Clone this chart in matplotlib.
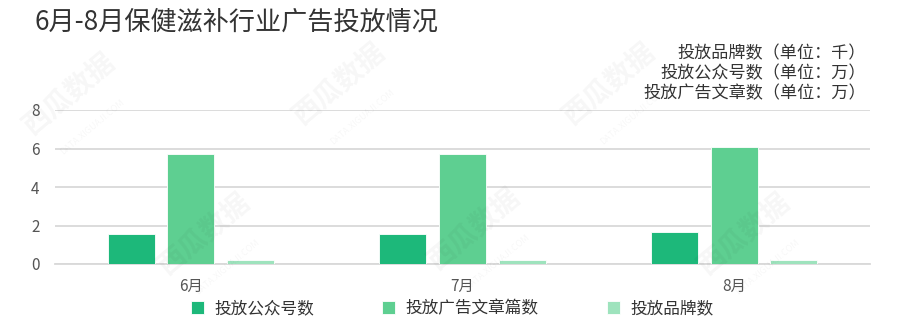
import matplotlib.pyplot as plt
import numpy as np

plt.rcParams['font.family'] = ['Noto Sans CJK SC', 'DejaVu Sans']

months = ["6月", "7月", "8月"]
series_names = ["投放公众号数", "投放广告文章篇数", "投放品牌数"]
accounts = [1.58, 1.55, 1.68]
articles = [5.69, 5.70, 6.06]
brands = [0.20, 0.22, 0.20]
colors = ["#1db87a", "#5ecf91", "#9ee3bd"]
unit_notes = ["投放品牌数（单位：千）", "投放公众号数（单位：万）", "投放广告文章数（单位：万）"]

fig = plt.figure(figsize=(8.97, 3.31), dpi=100)
ax = fig.add_axes([55 / 897, 1 - 264 / 331, 815 / 897, 154 / 331])

# faint watermarks
for px, py in [(70, 95), (340, 85), (610, 85), (205, 235), (475, 230), (745, 235)]:
    fig.text(px / 897, 1 - py / 331, "西瓜数据", fontsize=20, color="#000000", alpha=0.035,
             rotation=40, ha="center", va="center", fontweight="bold")
    fig.text((px + 22) / 897, 1 - (py + 32) / 331, "DATA.XIGUAJI.COM", fontsize=6.5,
             color="#000000", alpha=0.035, rotation=40, ha="center", va="center")

x = np.arange(len(months))
w = 0.173
step = 0.22
for i, vals in enumerate([accounts, articles, brands]):
    ax.bar(x + (i - 1) * step, vals, width=w, color=colors[i], edgecolor="#ffffff",
           linewidth=0.6, label=series_names[i], zorder=3)

ax.set_xlim(-0.5, 2.5)
ax.set_ylim(0, 8)
ax.set_yticks([0, 2, 4, 6, 8])
ax.set_xticks(x)
ax.set_xticklabels(months)
ax.grid(axis="y", color="#d9d9d9", linewidth=1.3, zorder=0)
for s in ["top", "right", "left"]:
    ax.spines[s].set_visible(False)
ax.spines["bottom"].set_color("#d9d9d9")
ax.spines["bottom"].set_linewidth(1.3)
ax.tick_params(axis="both", length=0, labelsize=11, colors="#555555")
ax.tick_params(axis="y", pad=11)
ax.tick_params(axis="x", pad=10)

fig.text(35 / 897, 1 - 22 / 331, "6月-8月保健滋补行业广告投放情况", fontsize=18.8,
         color="#333333", va="center", ha="left")
for k, t in enumerate(unit_notes):
    fig.text(866 / 897, 1 - (53 + 20 * k) / 331, t, fontsize=12.3, color="#333333",
             ha="right", va="center")

handles, labels = ax.get_legend_handles_labels()
fig.legend(handles, labels, loc="center", bbox_to_anchor=(452 / 897, 1 - 309 / 331), ncol=3,
           frameon=False, fontsize=12, handlelength=0.8, handleheight=0.8,
           columnspacing=4.1, handletextpad=0.6, labelcolor="#333333")

fig.savefig("out.png", dpi=100)
